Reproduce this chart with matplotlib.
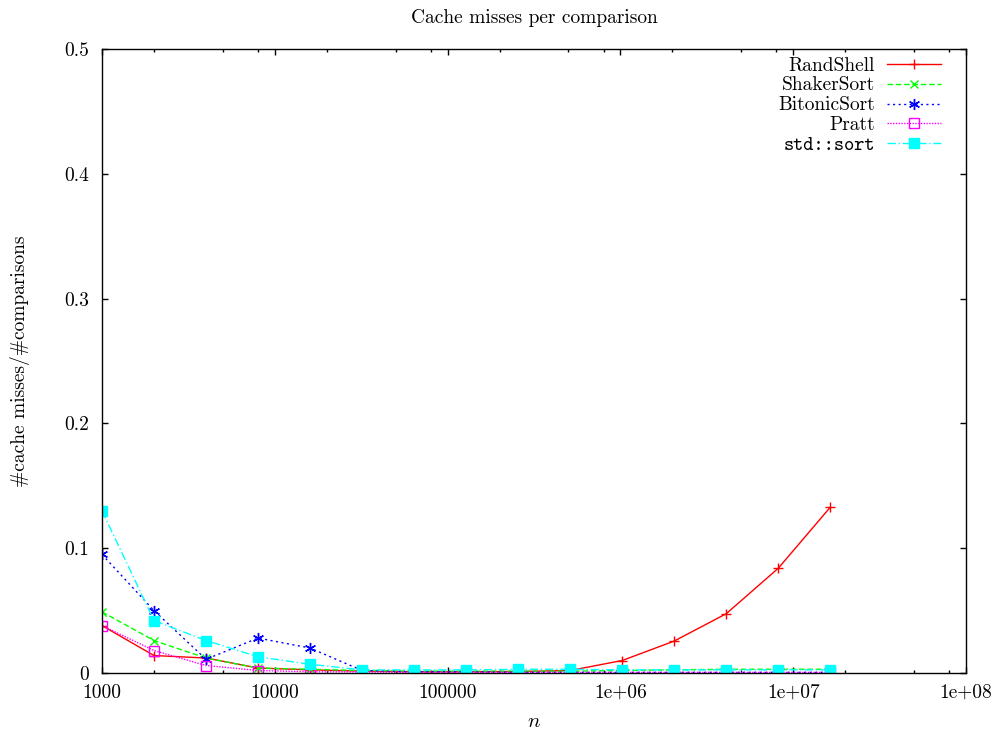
import numpy as np
from matplotlib import pyplot as plt
from matplotlib.ticker import FixedLocator, NullFormatter

plt.rcParams['font.family'] = 'cmr10'
plt.rcParams['mathtext.fontset'] = 'cm'
plt.rcParams['axes.unicode_minus'] = False

n = [1000, 2000, 4000, 8000, 16000, 32000, 64000, 128000, 256000, 512000,
     1024000, 2048000, 4096000, 8192000, 16384000]

randshell = [0.038, 0.014, 0.012, 0.004, 0.0025, 0.0015, 0.001, 0.001, 0.0012, 0.002,
             0.0100, 0.0256, 0.0475, 0.0839, 0.1328]
shakersort = [0.049, 0.026, 0.012, 0.004, 0.003, 0.002, 0.0015, 0.0015, 0.0015, 0.0015,
              0.002, 0.0025, 0.003, 0.003, 0.003]
bitonicsort = [0.095, 0.050, 0.011, 0.028, 0.020, 0.002, 0.001, 0.001, 0.0005, 0.0005,
               0.0005, 0.0005, 0.0005, 0.0005, 0.0005]
pratt = [0.038, 0.018, 0.006, 0.002, 0.001, 0.0008, 0.0005, 0.0005, 0.0005, 0.0005,
         0.0005, 0.0005, 0.0005, 0.0005, 0.0005]
stdsort = [0.130, 0.042, 0.026, 0.013, 0.007, 0.0025, 0.0025, 0.0025, 0.003, 0.003,
           0.0025, 0.0025, 0.0025, 0.0025, 0.0025]

xticks = [1e3, 1e4, 1e5, 1e6, 1e7, 1e8]
xticklabels = ['1000', '10000', '100000', '1e+06', '1e+07', '1e+08']
yticks = [0, 0.1, 0.2, 0.3, 0.4, 0.5]
yticklabels = ['0', '0.1', '0.2', '0.3', '0.4', '0.5']

fig = plt.figure(figsize=(10, 7.34), dpi=100)
ax = fig.add_axes([0.102, 0.0831, 0.864, 0.8501])

lw = 1.0
ax.plot(n, randshell, color='#ff0000', ls='-', lw=lw, marker='+', ms=7, mew=1, label='RandShell')
ax.plot(n, shakersort, color='#00ff00', ls=(0, (4, 2)), lw=lw, marker='x', ms=6, mew=1, label='ShakerSort')
ax.plot(n, bitonicsort, color='#0000ff', ls=(0, (1.5, 2.5)), lw=lw, marker=(6, 2, 0), ms=8, mew=1, label='BitonicSort')
ax.plot(n, pratt, color='#ff00ff', ls=(0, (1, 1)), lw=lw, marker='s', ms=6.5, mew=1, mfc='none', label='Pratt')
ax.plot(n, stdsort, color='#00ffff', ls=(0, (6, 2, 1, 2)), lw=lw, marker='s', ms=6.5, mew=1, label='std::sort')

ax.set_xscale('log')
ax.set_xlim(1e3, 1e8)
ax.set_ylim(0, 0.5)
ax.xaxis.set_major_locator(FixedLocator(xticks))
ax.set_xticklabels(xticklabels)
minors = [m * 10.0 ** e for e in range(3, 8) for m in (2, 5, 8)]
ax.xaxis.set_minor_locator(FixedLocator(minors))
ax.xaxis.set_minor_formatter(NullFormatter())
ax.set_yticks(yticks)
ax.set_yticklabels(yticklabels)

ax.tick_params(which='both', direction='in', top=True, right=True, labelsize=14, width=1)
ax.tick_params(which='major', length=4.5)
ax.tick_params(which='minor', length=2.5)
ax.tick_params(axis='x', pad=8)
ax.tick_params(axis='y', pad=9)
for s in ax.spines.values():
    s.set_linewidth(1)

ax.set_title('Cache misses per comparison', fontsize=14, pad=18.5)
ax.set_xlabel('$n$', fontsize=15, labelpad=8)
ax.set_ylabel('#cache misses/#comparisons', fontsize=14, labelpad=25)

leg = ax.legend(loc='upper right', bbox_to_anchor=(1 - 13 / 864, 1 + 4 / 624),
                markerfirst=False, frameon=False, fontsize=14,
                handlelength=2.8, handletextpad=0.6, labelspacing=0.1,
                borderaxespad=0.3, borderpad=0.3)
leg.get_texts()[4].set_family('cmtt10')

fig.savefig('out.png', dpi=100)
